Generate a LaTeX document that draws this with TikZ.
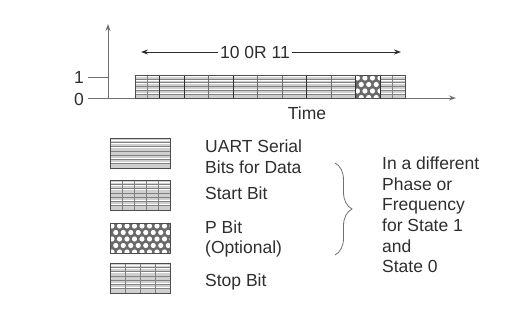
\documentclass[tikz,border=0pt]{standalone}
\usepackage{fontspec}
\setmainfont{Liberation Sans}
\usetikzlibrary{arrows.meta,decorations.pathreplacing}
\definecolor{ink}{HTML}{2E2E2E}
\definecolor{axisc}{HTML}{707070}
\definecolor{cellc}{HTML}{CFCFCF}
\definecolor{hatchc}{HTML}{808080}
\definecolor{dotc}{HTML}{6A6A6A}
\newcommand{\bigtxt}{\fontsize{17.5}{20.6}\selectfont}
% rows and columns of hatch lines inside a box: x1, y1, x2, y2, count
\newcommand{\hrows}[5]{%
  \foreach \k in {1,...,#5}
    \draw[hatch] (#1,{#2+\k*(#4-#2)/(#5+1)}) -- (#3,{#2+\k*(#4-#2)/(#5+1)});}
\newcommand{\wrows}[5]{%
  \foreach \k in {1,...,#5}
    \draw[gap] (#1,{#2+(\k-0.5)*(#4-#2)/(#5+1)}) -- (#3,{#2+(\k-0.5)*(#4-#2)/(#5+1)});}
\newcommand{\vcols}[5]{%
  \foreach \k in {1,...,#5}
    \draw[hatch] ({#1+\k*(#3-#1)/(#5+1)},#2) -- ({#1+\k*(#3-#1)/(#5+1)},#4);}
\newcommand{\dotbox}[4]{%
  \begin{scope}
    \clip (#1,#2) rectangle (#3,#4);
    \fill[dotc] (#1,#2) rectangle (#3,#4);
    \foreach \i in {0,...,8}
      \foreach \j in {0,...,5}
        \fill[white] ({#1+2+\i*7.5+mod(\j,2)*3.75},{#2+3+\j*6.5}) circle (2.6);
  \end{scope}}
\tikzset{
  axis/.style={draw=axisc, line width=0.9pt, -{Stealth[length=7pt,width=5pt]}},
  tick/.style={draw=axisc, line width=0.9pt},
  hatch/.style={draw=hatchc, line width=0.5pt},
  gap/.style={draw=white, line width=0.7pt},
  divider/.style={draw=ink, line width=1.1pt},
  softdiv/.style={draw=ink!70, line width=0.8pt},
  boxline/.style={draw=ink!85, line width=0.6pt},
  span/.style={draw=ink, line width=0.9pt, -{Stealth[length=7pt,width=5pt]}},
  lbl/.style={font=\bigtxt, text=ink, inner sep=0pt},
}
\begin{document}
\begin{tikzpicture}[x=1pt, y=-1pt]
  \useasboundingbox (0,0) rectangle (527,326);
  % axes
  \coordinate (origin) at (108,98);
  \coordinate (ytop) at (108,24);
  \coordinate (xleft) at (88,98);
  \coordinate (xright) at (456,98);
  \coordinate (oneleft) at (88,77);
  \coordinate (oneaxis) at (108,77);
  \draw[axis] (origin) -- (ytop);
  \draw[axis] (xleft) -- (xright);
  \draw[tick] (oneleft) -- (oneaxis);
  \node[lbl, anchor=east] (lone) at (84,77) {1};
  \node[lbl, anchor=east] (lzero) at (84,99) {0};
  % character frame
  \fill[cellc] (135,75) rectangle (405,98);
  \wrows{135}{75}{405}{98}{6}
  \hrows{135}{75}{405}{98}{5}
  \draw[hatch] (147.3,75) -- (147.3,98);
  \draw[hatch] (392.7,75) -- (392.7,98);
  \dotbox{355.45}{75}{380}{98}
  \foreach \c in {1,2,4,7,9,10}
    \draw[divider] ({135+\c*24.545},75) -- ({135+\c*24.545},98);
  \foreach \c in {3,5,6,8}
    \draw[softdiv] ({135+\c*24.545},75) -- ({135+\c*24.545},98);
  \draw[boxline] (135,75) rectangle (405,98);
  % frame length
  \node[lbl, inner sep=2pt] (spanlbl) at (255,52) {10 0R 11};
  \coordinate (spanleft) at (141,52);
  \coordinate (spanright) at (401,52);
  \draw[span] (spanlbl.west) -- (spanleft);
  \draw[span] (spanlbl.east) -- (spanright);
  \node[lbl] (timelbl) at (307,113) {Time};
  % legend
  \fill[cellc] (110,138) rectangle (170,168);
  \wrows{110}{138}{170}{168}{7}
  \hrows{110}{138}{170}{168}{6}
  \draw[boxline] (110,138) rectangle (170,168);
  \fill[cellc] (110,180) rectangle (170,210);
  \wrows{110}{180}{170}{210}{7}
  \hrows{110}{180}{170}{210}{6}
  \vcols{110}{180}{170}{210}{4}
  \draw[boxline] (110,180) rectangle (170,210);
  \dotbox{110}{223}{170}{253}
  \draw[boxline] (110,223) rectangle (170,253);
  \fill[cellc] (110,263) rectangle (170,293);
  \wrows{110}{263}{170}{293}{7}
  \hrows{110}{263}{170}{293}{6}
  \vcols{110}{263}{170}{293}{3}
  \draw[boxline] (110,263) rectangle (170,293);
  \node[lbl, anchor=west, align=left] (uart) at (205,157) {UART Serial\\Bits for Data};
  \node[lbl, anchor=west] (startlbl) at (205,193) {Start Bit};
  \node[lbl, anchor=west, align=left] (pbit) at (205,239) {P Bit\\(Optional)};
  \node[lbl, anchor=west] (stoplbl) at (205,282) {Stop Bit};
  % brace and note
  \coordinate (bracetop) at (335,163);
  \coordinate (bracebot) at (335,255);
  \draw[draw=axisc, line width=0.8pt, decorate, decoration={brace, amplitude=17pt}]
    (bracetop) -- (bracebot);
  \node[lbl, anchor=west, align=left] (note) at (382,215)
    {In a different\\Phase or\\Frequency\\for State 1\\and\\State 0};
\end{tikzpicture}
\end{document}
